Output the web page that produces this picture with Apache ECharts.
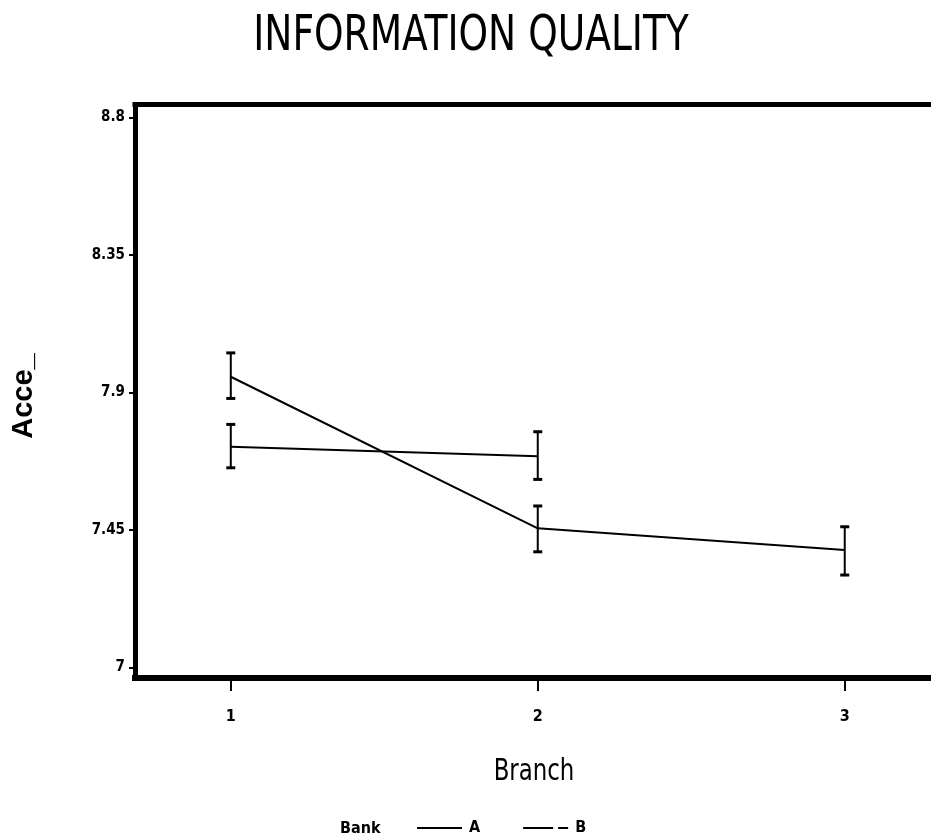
<!DOCTYPE html>
<html><head><meta charset="utf-8">
<script src="https://cdn.jsdelivr.net/npm/echarts@6/dist/echarts.min.js"></script>
<style>html,body{margin:0;padding:0;background:#fff}#c{width:931px;height:837px}</style>
</head><body><div id="c"></div>
<script>
// ---- data ----
const branches = [1, 2, 3];
const yTicks = [7, 7.45, 7.9, 8.35, 8.8];
const bankA = [7.951, 7.455, 7.384];
const bankA_low = [7.880, 7.378, 7.302];
const bankA_high = [8.029, 7.528, 7.460];
const branchesB = [1, 2];
const bankB = [7.722, 7.691];
const bankB_low = [7.653, 7.615];
const bankB_high = [7.795, 7.771];

const NARROW = "'Liberation Sans Narrow','DejaVu Sans Condensed','Arial Narrow',sans-serif";
const chart = echarts.init(document.getElementById('c'), null, {renderer: 'canvas'});

function errRender(params, api) {
  const x = api.value(0), lo = api.value(1), hi = api.value(2);
  const pLo = api.coord([x, lo]), pHi = api.coord([x, hi]);
  const w = 4.5;
  return {type: 'group', children: [
    {type: 'line', shape: {x1: pLo[0], y1: pLo[1], x2: pHi[0], y2: pHi[1]}, style: {stroke: '#000', lineWidth: 2}},
    {type: 'line', shape: {x1: pHi[0] - w, y1: pHi[1], x2: pHi[0] + w, y2: pHi[1]}, style: {stroke: '#000', lineWidth: 3}},
    {type: 'line', shape: {x1: pLo[0] - w, y1: pLo[1], x2: pLo[0] + w, y2: pLo[1]}, style: {stroke: '#000', lineWidth: 3}}
  ]};
}

const option = {
  backgroundColor: '#fff',
  animation: false,
  graphic: [
    {type: 'text', x: 471, y: 37, scaleX: 0.87, scaleY: 1.05, style: {text: 'INFORMATION QUALITY', font: "48px " + NARROW, fill: '#000', textAlign: 'center', textVerticalAlign: 'middle'}},
    {type: 'text', x: 534, y: 772, scaleX: 0.82, style: {text: 'Branch', font: "31px " + NARROW, fill: '#000', textAlign: 'center', textVerticalAlign: 'middle'}},
    {type: 'text', x: 24, y: 396, rotation: Math.PI / 2, style: {text: 'Acce_', font: "bold 29px 'Liberation Sans',Arial,sans-serif", fill: '#000', textAlign: 'center', textVerticalAlign: 'middle'}},
    {type: 'text', x: 340, y: 829, style: {text: 'Bank', font: "bold 16px " + NARROW, fill: '#000', textAlign: 'left', textVerticalAlign: 'middle'}}
  ],
  grid: {left: 135, right: 0, top: 104.5, bottom: 159, show: false},
  legend: {
    left: 417, top: 820, padding: 0, itemWidth: 45, itemHeight: 2, itemGap: 43,
    textStyle: {fontFamily: NARROW, fontWeight: 'bold', fontSize: 16, color: '#000', padding: [0, 0, 0, 2]},
    data: [
      {name: 'A', icon: 'path://M0,0h45v2h-45z'},
      {name: 'B', icon: 'path://M0,0h30v2h-30z M35,0h10v2h-10z'}
    ]
  },
  xAxis: [{
    type: 'value', min: 0.688, max: 3.281,
    splitLine: {show: false},
    axisLine: {show: true, lineStyle: {color: '#000', width: 6, cap: 'square'}},
    axisTick: {show: true, customValues: branches, length: 13, lineStyle: {color: '#000', width: 2}},
    axisLabel: {customValues: branches, margin: 31, fontFamily: NARROW, fontWeight: 'bold', fontSize: 16, color: '#000'}
  }, {
    type: 'value', position: 'top', min: 0.688, max: 3.281,
    splitLine: {show: false},
    axisLine: {show: true, lineStyle: {color: '#000', width: 5, cap: 'square'}},
    axisTick: {show: false}, axisLabel: {show: false}
  }],
  yAxis: {
    type: 'value', min: 6.965, max: 8.842,
    splitLine: {show: false},
    axisLine: {show: true, lineStyle: {color: '#000', width: 5, cap: 'square'}},
    axisTick: {show: true, customValues: yTicks, length: 6, lineStyle: {color: '#000', width: 2}},
    axisLabel: {customValues: yTicks, margin: 10, fontFamily: NARROW, fontWeight: 'bold', fontSize: 15, color: '#000',
      formatter: v => String(v)}
  },
  series: [
    {name: 'A err', type: 'custom', renderItem: errRender, data: branches.map((b, i) => [b, bankA_low[i], bankA_high[i]]), z: 3},
    {name: 'B err', type: 'custom', renderItem: errRender, data: branchesB.map((b, i) => [b, bankB_low[i], bankB_high[i]]), z: 3},
    {name: 'A', type: 'line', data: branches.map((b, i) => [b, bankA[i]]), symbol: 'none', lineStyle: {color: '#000', width: 2}, itemStyle: {color: '#000'}, z: 4},
    {name: 'B', type: 'line', data: branchesB.map((b, i) => [b, bankB[i]]), symbol: 'none', lineStyle: {color: '#000', width: 2}, itemStyle: {color: '#000'}, z: 4}
  ]
};
chart.setOption(option);
</script>
</body></html>
